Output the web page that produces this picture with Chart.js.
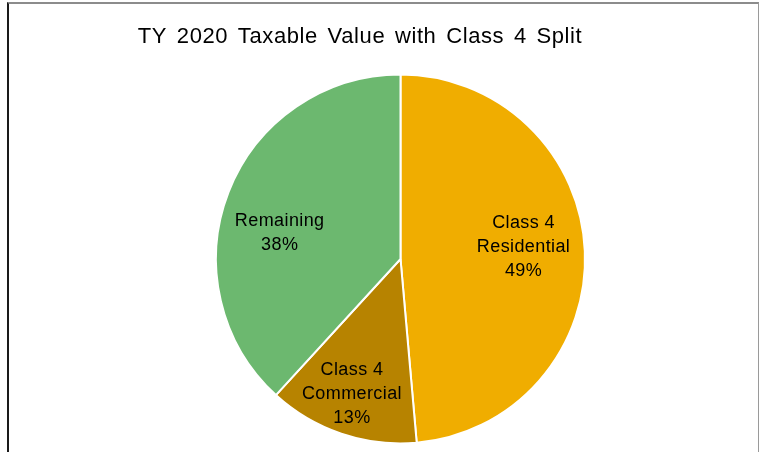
<!DOCTYPE html>
<html>
<head>
<meta charset="utf-8">
<script src="https://cdn.jsdelivr.net/npm/chart.js@4.4.0/dist/chart.umd.min.js"></script>
<style>
  html, body { margin: 0; padding: 0; background: #fff; }
  #wrap { position: relative; width: 764px; height: 452px; overflow: hidden; }
  #frame { position: absolute; left: 7px; top: 2px; width: 749px; height: 470px;
           border-top: 2px solid #8c8c8c; border-left: 2px solid #1a1a1a; border-right: 1px solid #9a9a9a; }
  canvas { position: absolute; left: 0; top: 0; }
</style>
</head>
<body>
<div id="wrap">
  <div id="frame"></div>
  <canvas id="pieChart" width="764" height="452"></canvas>
</div>
<script>
const chartTitle = 'TY 2020 Taxable Value with Class 4 Split';
const sliceLabels = [['Class 4', 'Residential'], ['Class 4', 'Commercial'], ['Remaining']];
const sliceValues = [48.6, 13.2, 38.2];
const sliceColors = ['#f0ad00', '#b78300', '#6cb86f'];

// where each label sits inside its slice: fraction of radius, angle tweak (deg)
const labelPlace = [[0.67, -3], [0.78, 1], [0.67, -9]];

const titlePlugin = {
  id: 'titleText',
  afterDraw(chart) {
    const ctx = chart.ctx;
    ctx.save();
    ctx.font = '22px "Liberation Sans", Arial, sans-serif';
    ctx.letterSpacing = '0.6px';
    ctx.wordSpacing = '3px';
    ctx.fillStyle = '#000';
    ctx.textAlign = 'center';
    ctx.textBaseline = 'alphabetic';
    ctx.fillText(chartTitle, 360, 43);
    ctx.restore();
  }
};

const sliceTextPlugin = {
  id: 'sliceText',
  afterDatasetsDraw(chart) {
    const ctx = chart.ctx;
    const meta = chart.getDatasetMeta(0);
    const total = sliceValues.reduce((a, b) => a + b, 0);
    ctx.save();
    ctx.font = '18px "Liberation Sans", Arial, sans-serif';
    ctx.letterSpacing = '0.4px';
    ctx.fillStyle = '#000';
    ctx.textAlign = 'center';
    ctx.textBaseline = 'middle';
    meta.data.forEach(function (arc, i) {
      const p = arc.getProps(['x', 'y', 'startAngle', 'endAngle', 'outerRadius'], true);
      const mid = (p.startAngle + p.endAngle) / 2 + labelPlace[i][1] * Math.PI / 180;
      const r = p.outerRadius * labelPlace[i][0];
      const cx = p.x + Math.cos(mid) * r;
      const cy = p.y + Math.sin(mid) * r;
      const lines = sliceLabels[i].concat([Math.round(sliceValues[i] / total * 100) + '%']);
      const lh = 24;
      lines.forEach(function (t, k) {
        ctx.fillText(t, cx, cy + (k - (lines.length - 1) / 2) * lh);
      });
    });
    ctx.restore();
  }
};

new Chart(document.getElementById('pieChart').getContext('2d'), {
  type: 'pie',
  data: {
    labels: sliceLabels.map(l => l.join(' ')),
    datasets: [{
      data: sliceValues,
      backgroundColor: sliceColors,
      borderColor: '#ffffff',
      borderWidth: 2
    }]
  },
  options: {
    responsive: false,
    animation: false,
    layout: { padding: { top: 72, bottom: 6, left: 215, right: 178 } },
    plugins: {
      legend: { display: false },
      title: { display: false },
      tooltip: { enabled: false }
    }
  },
  plugins: [titlePlugin, sliceTextPlugin]
});
</script>
</body>
</html>
